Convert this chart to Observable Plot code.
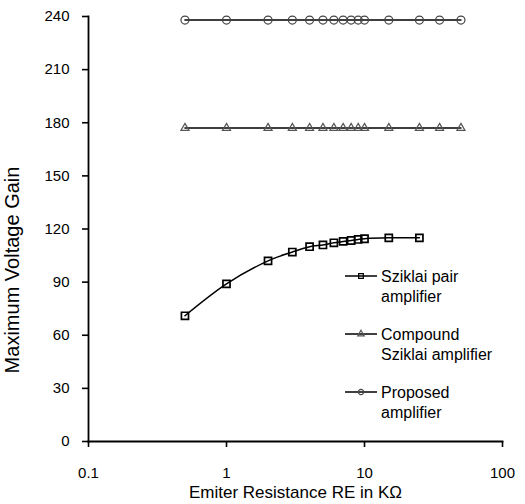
<!DOCTYPE html>
<html><head><meta charset="utf-8">
<script src="https://cdn.jsdelivr.net/npm/d3@7"></script>
<script src="https://cdn.jsdelivr.net/npm/@observablehq/plot@0.6"></script>
<style>
body{margin:0;background:#fff;}
#wrap{position:relative;width:525px;height:504px;overflow:hidden;font-family:"Liberation Sans",Arial,sans-serif;}
</style></head><body><div id="wrap"></div>
<script>
// ---- data ----
const resistanceK = [0.5, 1, 2, 3, 4, 5, 6, 7, 8, 9, 10, 15, 25, 35, 50];
const sziklaiR    = [0.5, 1, 2, 3, 4, 5, 6, 7, 8, 9, 10, 15, 25];
const sziklaiGain = [71, 89, 102, 107, 110, 111, 112.2, 113, 113.5, 114.1, 114.5, 115, 115];
const compoundGain = [177, 177, 177, 177, 177, 177, 177, 177, 177, 177, 177, 177, 177, 177, 177];
const proposedGain = [238, 238, 238, 238, 238, 238, 238, 238, 238, 238, 238, 238, 238, 238, 238];
const seriesNames = ["Sziklai pair amplifier", "Compound Sziklai amplifier", "Proposed amplifier"];
const legendLines = [["Sziklai pair", "amplifier"], ["Compound", "Sziklai amplifier"], ["Proposed", "amplifier"]];
const xTicks = [0.1, 1, 10, 100];
const xTickLabels = ["0.1", "1", "10", "100"];
const yTicks = [0, 30, 60, 90, 120, 150, 180, 210, 240];
const xTitle = "Emiter Resistance RE in KΩ";
const yTitle = "Maximum Voltage Gain";

// ---- tables ----
const sziklai = sziklaiR.map((r, i) => ({r, g: sziklaiGain[i]}));
const compound = resistanceK.map((r, i) => ({r, g: compoundGain[i]}));
const proposed = resistanceK.map((r, i) => ({r, g: proposedGain[i]}));

const FONT = '"Liberation Sans", Arial, sans-serif';

const chart = Plot.plot({
  width: 525,
  height: 504,
  marginLeft: 88,
  marginRight: 23,
  marginTop: 16,
  marginBottom: 63,
  style: {fontFamily: FONT, fontSize: "15px", color: "#000", background: "#fff"},
  x: {type: "log", domain: [0.1, 100]},
  y: {domain: [0, 240]},
  marks: [
    Plot.axisY({ticks: yTicks, tickSize: 6, tickPadding: 13, label: null, strokeWidth: 1.6, fontSize: 15}),
    Plot.axisX({ticks: xTicks, tickFormat: (d) => xTickLabels[xTicks.indexOf(d)], tickSize: 6, tickPadding: 20, label: null, strokeWidth: 1.6, fontSize: 15}),
    Plot.frame({anchor: "left", strokeWidth: 1.8}),
    Plot.frame({anchor: "bottom", strokeWidth: 1.8}),
    Plot.line(proposed, {x: "r", y: "g", stroke: "#000", strokeWidth: 1.5}),
    Plot.line(compound, {x: "r", y: "g", stroke: "#000", strokeWidth: 1.5}),
    Plot.line(sziklai, {x: "r", y: "g", stroke: "#000", strokeWidth: 1.5, curve: "catmull-rom"}),
    Plot.dot(proposed, {x: "r", y: "g", symbol: "circle", r: 4, stroke: "#444", strokeWidth: 1.2, fill: "none"}),
    Plot.dot(compound, {x: "r", y: "g", symbol: "triangle", r: 3, stroke: "#555", strokeWidth: 1.2, fill: "none"}),
    Plot.dot(sziklai, {x: "r", y: "g", symbol: "square", r: 4, stroke: "#000", strokeWidth: 1.7, fill: "none"}),
    Plot.text([yTitle], {frameAnchor: "left", textAnchor: "middle", rotate: -90, dx: -76, dy: 41, fontSize: 20, fill: "#000"}),
    Plot.text([xTitle], {frameAnchor: "bottom", textAnchor: "middle", dy: 56, fontSize: 17, fill: "#000"})
  ]
});
document.getElementById("wrap").appendChild(chart);

// ---- legend (inside plot area) ----
const svg = d3.select(chart);
const symbols = [d3.symbolSquare, d3.symbolTriangle, d3.symbolCircle];
const symColors = ["#000", "#555", "#444"];
const symSizes = [22, 18, 22];
const lg = svg.append("g").attr("transform", "translate(345,276)");
legendLines.forEach((lines, i) => {
  const g = lg.append("g").attr("transform", `translate(0,${i * 58})`).attr("aria-label", seriesNames[i]);
  g.append("line").attr("x1", 0).attr("x2", 32).attr("y1", 0).attr("y2", 0).attr("stroke", "#000").attr("stroke-width", 1.5);
  g.append("path").attr("d", d3.symbol(symbols[i], symSizes[i])()).attr("transform", "translate(16,0)")
    .attr("fill", "none").attr("stroke", symColors[i]).attr("stroke-width", 1.2);
  lines.forEach((t, j) => {
    g.append("text").attr("x", 36).attr("y", j * 20).attr("dy", "0.35em").attr("text-anchor", "start")
      .attr("font-family", FONT).attr("font-size", 16).attr("fill", "#000").text(t);
  });
});
</script>
</body></html>
